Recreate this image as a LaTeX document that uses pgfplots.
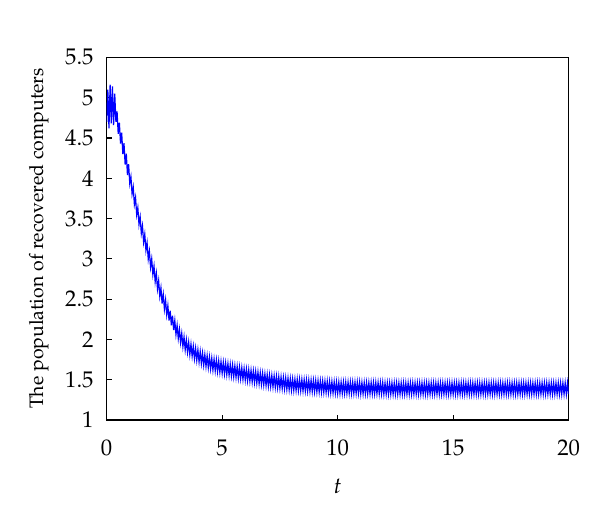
\documentclass[border=0pt]{standalone}
\usepackage[T1]{fontenc}
\usepackage{mathpazo}
\usepackage{pgfplots}
\pgfplotsset{compat=1.18}
\begin{document}
\fontsize{17pt}{20pt}\selectfont
\begin{tikzpicture}
\path[use as bounding box] (-80pt,-76pt) rectangle (370pt,315pt);
\begin{axis}[
  scale only axis,
  width=346.5pt, height=272pt,
  xmin=0, xmax=20, ymin=1, ymax=5.5,
  xtick={0,5,10,15,20},
  ytick={1,1.5,2,2.5,3,3.5,4,4.5,5,5.5},
  yticklabels={1,1.5,2,2.5,3,3.5,4,4.5,5,5.5},
  xtick pos=left, ytick pos=left,
  tick align=inside,
  major tick length=4pt,
  axis line style={line width=0.9pt},
  tick style={line width=0.9pt, black},
  ticklabel style={font=\fontsize{17pt}{20pt}\selectfont},
  yticklabel style={xshift=-4pt},
  xticklabel style={yshift=-9pt},
  xlabel={$t$},
  ylabel={The population of recovered computers},
  xlabel style={font=\fontsize{17pt}{20pt}\selectfont, at={(axis description cs:0.5,-0.182)}, anchor=center},
  ylabel style={font=\fontsize{14.6pt}{17pt}\selectfont, at={(axis description cs:-0.147,0.5)}, anchor=center},
]
\addplot[color=blue, line width=0.9pt] coordinates {
(0.00,4.70)(0.05,5.10)(0.10,4.62)(0.15,5.16)(0.20,4.68)(0.25,5.14)(0.30,4.66)(0.35,5.05)(0.40,4.70)(0.45,4.83)
(0.50,4.55)(0.55,4.69)(0.60,4.43)(0.65,4.565)(0.70,4.30)(0.75,4.435)(0.80,4.17)(0.85,4.305)(0.90,4.04)(0.95,4.175)
(1.00,3.935)(1.05,4.02)(1.10,3.805)(1.15,3.89)(1.20,3.675)(1.25,3.76)(1.30,3.545)(1.35,3.635)(1.40,3.425)(1.45,3.52)
(1.50,3.315)(1.55,3.41)(1.60,3.205)(1.65,3.305)(1.70,3.105)(1.75,3.20)(1.80,2.995)(1.85,3.095)(1.90,2.895)(1.95,3.00)
(2.00,2.805)(2.05,2.91)(2.10,2.715)(2.15,2.82)(2.20,2.625)(2.25,2.73)(2.30,2.535)(2.35,2.64)(2.40,2.445)(2.45,2.56)
(2.50,2.375)(2.55,2.49)(2.60,2.305)(2.65,2.42)(2.70,2.235)(2.75,2.355)(2.80,2.175)(2.85,2.295)(2.90,2.115)(2.95,2.235)
(3.00,2.06)(3.05,2.175)(3.10,2.01)(3.15,2.125)(3.20,1.96)(3.25,2.075)(3.30,1.91)(3.35,2.03)(3.40,1.87)(3.45,1.995)
(3.50,1.84)(3.55,1.965)(3.60,1.81)(3.65,1.94)(3.70,1.79)(3.75,1.915)(3.80,1.76)(3.85,1.89)(3.90,1.74)(3.95,1.87)
(4.00,1.72)(4.05,1.85)(4.10,1.70)(4.15,1.83)(4.20,1.68)(4.25,1.812)(4.30,1.665)(4.35,1.797)(4.40,1.65)(4.45,1.782)
(4.50,1.635)(4.55,1.767)(4.60,1.62)(4.65,1.755)(4.70,1.61)(4.75,1.745)(4.80,1.60)(4.85,1.735)(4.90,1.59)(4.95,1.725)
(5.00,1.58)(5.05,1.716)(5.10,1.571)(5.15,1.707)(5.20,1.563)(5.25,1.699)(5.30,1.554)(5.35,1.690)(5.40,1.546)(5.45,1.682)
(5.50,1.537)(5.55,1.673)(5.60,1.529)(5.65,1.665)(5.70,1.520)(5.75,1.656)(5.80,1.512)(5.85,1.648)(5.90,1.503)(5.95,1.639)
(6.00,1.495)(6.05,1.631)(6.10,1.487)(6.15,1.624)(6.20,1.480)(6.25,1.616)(6.30,1.472)(6.35,1.609)(6.40,1.465)(6.45,1.601)
(6.50,1.457)(6.55,1.594)(6.60,1.450)(6.65,1.586)(6.70,1.442)(6.75,1.579)(6.80,1.435)(6.85,1.571)(6.90,1.427)(6.95,1.564)
(7.00,1.420)(7.05,1.558)(7.10,1.415)(7.15,1.553)(7.20,1.410)(7.25,1.548)(7.30,1.405)(7.35,1.543)(7.40,1.400)(7.45,1.538)
(7.50,1.395)(7.55,1.533)(7.60,1.390)(7.65,1.528)(7.70,1.385)(7.75,1.523)(7.80,1.380)(7.85,1.518)(7.90,1.375)(7.95,1.513)
(8.00,1.370)(8.05,1.509)(8.10,1.368)(8.15,1.507)(8.20,1.367)(8.25,1.506)(8.30,1.365)(8.35,1.504)(8.40,1.363)(8.45,1.502)
(8.50,1.361)(8.55,1.500)(8.60,1.359)(8.65,1.498)(8.70,1.357)(8.75,1.496)(8.80,1.355)(8.85,1.494)(8.90,1.353)(8.95,1.492)
(9.00,1.351)(9.05,1.490)(9.10,1.349)(9.15,1.488)(9.20,1.347)(9.25,1.486)(9.30,1.345)(9.35,1.484)(9.40,1.343)(9.45,1.482)
(9.50,1.341)(9.55,1.480)(9.60,1.339)(9.65,1.478)(9.70,1.337)(9.75,1.476)(9.80,1.335)(9.85,1.474)(9.90,1.333)(9.95,1.472)
(10.00,1.33)(10.05,1.47)(10.10,1.33)(10.15,1.47)(10.20,1.33)(10.25,1.47)(10.30,1.33)(10.35,1.47)(10.40,1.33)(10.45,1.47)
(10.50,1.33)(10.55,1.47)(10.60,1.33)(10.65,1.47)(10.70,1.33)(10.75,1.47)(10.80,1.33)(10.85,1.47)(10.90,1.33)(10.95,1.47)
(11.00,1.325)(11.05,1.465)(11.10,1.325)(11.15,1.465)(11.20,1.325)(11.25,1.465)(11.30,1.325)(11.35,1.465)(11.40,1.325)(11.45,1.465)
(11.50,1.325)(11.55,1.465)(11.60,1.325)(11.65,1.465)(11.70,1.325)(11.75,1.465)(11.80,1.325)(11.85,1.465)(11.90,1.325)(11.95,1.465)
(12.00,1.32)(12.05,1.46)(12.10,1.32)(12.15,1.46)(12.20,1.32)(12.25,1.46)(12.30,1.32)(12.35,1.46)(12.40,1.32)(12.45,1.46)
(12.50,1.32)(12.55,1.46)(12.60,1.32)(12.65,1.46)(12.70,1.32)(12.75,1.46)(12.80,1.32)(12.85,1.46)(12.90,1.32)(12.95,1.46)
(13.00,1.32)(13.05,1.46)(13.10,1.32)(13.15,1.46)(13.20,1.32)(13.25,1.46)(13.30,1.32)(13.35,1.46)(13.40,1.32)(13.45,1.46)
(13.50,1.32)(13.55,1.46)(13.60,1.32)(13.65,1.46)(13.70,1.32)(13.75,1.46)(13.80,1.32)(13.85,1.46)(13.90,1.32)(13.95,1.46)
(14.00,1.32)(14.05,1.46)(14.10,1.32)(14.15,1.46)(14.20,1.32)(14.25,1.46)(14.30,1.32)(14.35,1.46)(14.40,1.32)(14.45,1.46)
(14.50,1.32)(14.55,1.46)(14.60,1.32)(14.65,1.46)(14.70,1.32)(14.75,1.46)(14.80,1.32)(14.85,1.46)(14.90,1.32)(14.95,1.46)
(15.00,1.32)(15.05,1.46)(15.10,1.32)(15.15,1.46)(15.20,1.32)(15.25,1.46)(15.30,1.32)(15.35,1.46)(15.40,1.32)(15.45,1.46)
(15.50,1.32)(15.55,1.46)(15.60,1.32)(15.65,1.46)(15.70,1.32)(15.75,1.46)(15.80,1.32)(15.85,1.46)(15.90,1.32)(15.95,1.46)
(16.00,1.32)(16.05,1.46)(16.10,1.32)(16.15,1.46)(16.20,1.32)(16.25,1.46)(16.30,1.32)(16.35,1.46)(16.40,1.32)(16.45,1.46)
(16.50,1.32)(16.55,1.46)(16.60,1.32)(16.65,1.46)(16.70,1.32)(16.75,1.46)(16.80,1.32)(16.85,1.46)(16.90,1.32)(16.95,1.46)
(17.00,1.32)(17.05,1.46)(17.10,1.32)(17.15,1.46)(17.20,1.32)(17.25,1.46)(17.30,1.32)(17.35,1.46)(17.40,1.32)(17.45,1.46)
(17.50,1.32)(17.55,1.46)(17.60,1.32)(17.65,1.46)(17.70,1.32)(17.75,1.46)(17.80,1.32)(17.85,1.46)(17.90,1.32)(17.95,1.46)
(18.00,1.32)(18.05,1.46)(18.10,1.32)(18.15,1.46)(18.20,1.32)(18.25,1.46)(18.30,1.32)(18.35,1.46)(18.40,1.32)(18.45,1.46)
(18.50,1.32)(18.55,1.46)(18.60,1.32)(18.65,1.46)(18.70,1.32)(18.75,1.46)(18.80,1.32)(18.85,1.46)(18.90,1.32)(18.95,1.46)
(19.00,1.32)(19.05,1.46)(19.10,1.32)(19.15,1.46)(19.20,1.32)(19.25,1.46)(19.30,1.32)(19.35,1.46)(19.40,1.32)(19.45,1.46)
(19.50,1.32)(19.55,1.46)(19.60,1.32)(19.65,1.46)(19.70,1.32)(19.75,1.46)(19.80,1.32)(19.85,1.46)(19.90,1.32)(19.95,1.46)
(20.00,1.32)
};
\end{axis}
\end{tikzpicture}
\end{document}
